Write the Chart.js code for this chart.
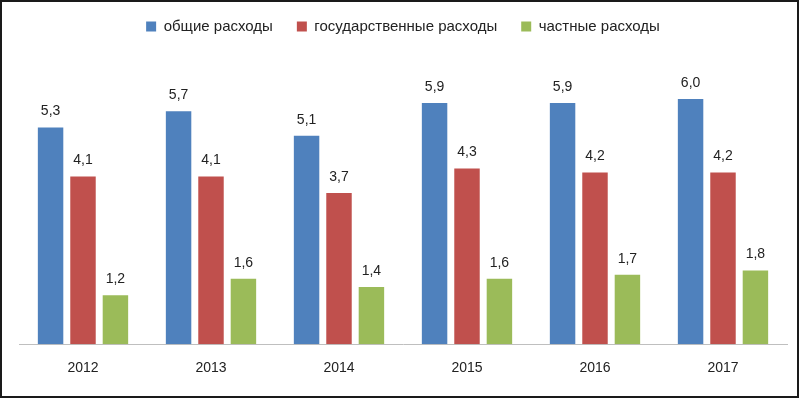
<!DOCTYPE html>
<html>
<head>
<meta charset="utf-8">
<script src="https://cdn.jsdelivr.net/npm/chart.js@4/dist/chart.umd.min.js"></script>
<style>
  html, body { margin: 0; padding: 0; background: #fff; }
  canvas { display: block; }
</style>
</head>
<body>
<canvas id="spendChart" width="800" height="399"></canvas>
<script>
// years and series
const years = ['2012', '2013', '2014', '2015', '2016', '2017'];
const totalSpend = [5.3, 5.7, 5.1, 5.9, 5.9, 6.0];
const publicSpend = [4.1, 4.1, 3.7, 4.3, 4.2, 4.2];
const privateSpend = [1.2, 1.6, 1.4, 1.6, 1.7, 1.8];
const seriesNames = ['общие расходы', 'государственные расходы', 'частные расходы'];

const COLORS = ['#4f81bd', '#c0504d', '#9bbb59'];
const FONT = 'Liberation Sans';

// value labels above bars
const barLabels = {
  id: 'barLabels',
  afterDatasetsDraw(chart) {
    const ctx = chart.ctx;
    ctx.save();
    ctx.font = '14px ' + FONT;
    ctx.fillStyle = '#222';
    ctx.textAlign = 'center';
    ctx.textBaseline = 'middle';
    chart.data.datasets.forEach((ds, i) => {
      chart.getDatasetMeta(i).data.forEach((bar, j) => {
        ctx.fillText(ds.data[j].toFixed(1).replace('.', ','), bar.x, bar.y - 16);
      });
    });
    ctx.restore();
  }
};

// outer frame of the picture
const frame = {
  id: 'frame',
  afterDraw(chart) {
    const ctx = chart.ctx;
    ctx.save();
    ctx.strokeStyle = '#1a1a1a';
    ctx.lineWidth = 2;
    ctx.strokeRect(1, 1, chart.width - 3, chart.height - 3);
    ctx.restore();
  }
};

// extra space under the legend
const legendGap = {
  id: 'legendGap',
  beforeInit(chart) {
    const fit = chart.legend.fit;
    chart.legend.fit = function () {
      fit.bind(chart.legend)();
      this.height += 14;
    };
  }
};

const datasets = [totalSpend, publicSpend, privateSpend].map((vals, i) => ({
  label: seriesNames[i],
  data: vals,
  backgroundColor: COLORS[i],
  barPercentage: 0.785,
  categoryPercentage: 0.76
}));

new Chart(document.getElementById('spendChart'), {
  type: 'bar',
  data: { labels: years, datasets: datasets },
  plugins: [barLabels, frame, legendGap],
  options: {
    responsive: false,
    animation: false,
    layout: { padding: { left: 19, right: 13, top: -5, bottom: 14 } },
    plugins: {
      legend: {
        labels: {
          boxWidth: 10,
          boxHeight: 10,
          padding: 24,
          color: '#222',
          font: { family: FONT, size: 15 }
        }
      },
      tooltip: { enabled: false }
    },
    scales: {
      x: {
        grid: { display: false },
        border: { display: true, color: '#bfbfbf', width: 1 },
        ticks: { color: '#222', padding: 8, font: { family: FONT, size: 14 } }
      },
      y: {
        display: false,
        min: 0,
        max: 7
      }
    }
  }
});
</script>
</body>
</html>
